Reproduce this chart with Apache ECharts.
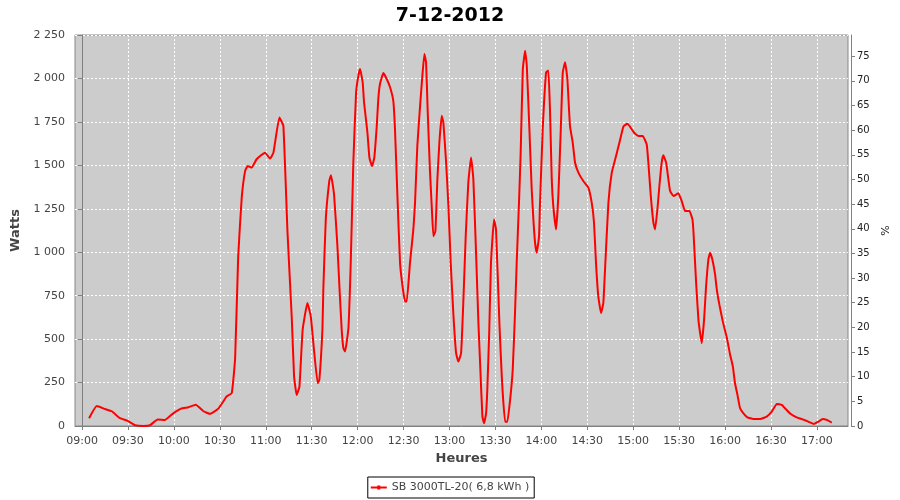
<!DOCTYPE html>
<html><head><meta charset="utf-8">
<script src="https://cdn.jsdelivr.net/npm/echarts@6/dist/echarts.min.js"></script>
<style>html,body{margin:0;padding:0;background:#fff}#c{width:900px;height:500px}</style>
</head><body><div id="c"></div>
<script>
const chartTitle = '7-12-2012';
const seriesName = 'SB 3000TL-20( 6,8 kWh )';
// minutes after 09:00
const minutes = [4.6,9.6,15,19.4,24.8,29.8,34.6,40,44.5,49.4,54.2,59.6,64.7,69.5,74.3,79.3,83.6,89,94.5,97.8,
100,102,104.3,106.5,108.2,110.8,114,119.5,122.8,125,128.9,131.5,134.2,137,138.5,140.2,142,144.1,147.2,149.4,
151.5,153.9,155,157,157.6,159.2,161.5,162.6,164.6,166.8,168.1,169.6,170.7,171.8,174,175.5,177.2,179,180.5,181.6,
183.3,184.2,186.4,187.7,189.4,190.9,192.5,193.5,194.6,196.8,199,201.2,203.3,204.4,206,207.7,209.5,211,212.1,214.2,
216.4,217.5,219,220.8,222.3,223.6,224.7,225.8,227.3,228.4,229.5,230.8,232.1,233.4,234.9,236,237.8,239.3,240.8,242.5,
244.3,245.8,247.6,249.1,250.6,252.3,254.1,255.6,257.2,258.9,260,261.5,262.6,263.9,264.7,266,267.1,269.1,270.4,272.6,
274.3,276.3,277.8,279.6,281.3,282.8,283.9,285.4,286.5,287.9,289.4,290.5,292.2,293.7,294.8,295.9,297,298.5,299.1,300.9,
303.1,304.6,305.7,306.8,307.8,309.6,311.1,312.7,314,315.5,317,318.7,320.5,322,324.2,327.4,330.7,332.9,334.4,335.7,
337.2,339,340.5,341.6,343.8,346,348.8,351,353.6,356.2,357.9,360.5,363.4,366.2,368.8,369.9,371.5,373.2,374.3,375.8,
377.1,378.6,379.7,381.5,383,384.1,386.3,389.5,391.7,393.9,396.7,398.7,399.4,401.1,402.6,403.7,404.8,406.3,407.6,409.1,
410.2,411.7,413.5,414.6,416.3,418.5,421.2,423.3,425.1,426.5,428.1,429.8,432,434.6,438.5,442.9,447.2,450.5,453.8,457,
459.8,462.9,466.8,470.7,474.4,478.1,480.9,483.8,486.4,489.7];
const watts = [45,115,98,85,45,30,5,0,5,38,35,73,100,108,122,85,70,100,170,189,
391,977,1314,1467,1496,1487,1535,1573,1539,1573,1775,1727,1115,620,285,179,227,554,708,631,
438,246,265,554,785,1189,1410,1443,1333,1035,804,554,448,429,564,939,1516,1920,2016,2054,
1978,1862,1689,1545,1496,1545,1727,1881,1968,2031,1997,1949,1871,1708,1323,939,794,717,717,939,
1131,1285,1612,1842,2016,2141,2093,1804,1458,1266,1092,1121,1419,1631,1785,1747,1516,1266,939,650,
420,371,420,727,1092,1400,1545,1419,1035,593,362,54,16,73,208,554,939,1189,1131,593,
260,25,25,150,323,650,939,1285,1573,2054,2160,2073,1708,1362,1189,1054,997,1092,1275,1708,
2035,2045,1804,1419,1266,1131,1323,1708,2035,2093,1997,1727,1631,1516,1458,1410,1372,1285,1170,939,
746,650,708,900,1285,1458,1554,1631,1723,1740,1723,1689,1669,1669,1621,1516,1323,1170,1131,1246,
1381,1516,1558,1516,1419,1352,1323,1339,1294,1237,1237,1189,1112,823,612,535,477,612,804,958,
997,958,871,785,698,602,506,410,342,246,179,102,73,50,40,40,54,83,127,121,
96,69,50,38,25,12,25,40,35,19];
const xTickMinutes = [0,30,60,90,120,150,180,210,240,270,300,330,360,390,420,450,480];
const pctTicks = [0,5,10,15,20,25,30,35,40,45,50,55,60,65,70,75];

const data = minutes.map((m, i) => [m, watts[i]]);
const font = 'DejaVu Sans';
const fmtTime = v => {
  const t = Math.round(v) + 540;
  const h = Math.floor(t / 60), mm = t % 60;
  return String(h).padStart(2, '0') + ':' + String(mm).padStart(2, '0');
};
const fmtW = v => String(v).replace(/\B(?=(\d{3})+(?!\d))/g, ' ');

const chart = echarts.init(document.getElementById('c'), null, {renderer: 'canvas'});
chart.setOption({
  animation: false,
  backgroundColor: '#ffffff',
  title: {
    text: chartTitle, left: 'center', top: 2,
    textStyle: {fontFamily: font, fontSize: 19, fontWeight: 'bold', color: '#000'}
  },
  legend: {
    data: [{name: seriesName, icon: 'path://M0,4H16V6H0Z M6.5,3H9.5V7H6.5Z'}],
    left: 'center', top: 477,
    borderColor: '#000', borderWidth: 1, borderRadius: 0,
    padding: [5, 5, 5, 3], itemWidth: 16, itemHeight: 4,
    itemStyle: {borderWidth: 0},
    textStyle: {fontFamily: font, fontSize: 11, color: '#444', lineHeight: 10}
  },
  grid: {
    left: 75, right: 52, top: 35, bottom: 74,
    show: true, backgroundColor: '#cccccc', borderColor: '#888888', borderWidth: 1
  },
  xAxis: {
    type: 'value', min: -4.6, max: 500.3, offset: 4,
    name: 'Heures', nameLocation: 'middle', nameGap: 21,
    nameTextStyle: {fontFamily: font, fontSize: 13, fontWeight: 'bold', color: '#444'},
    axisLine: {show: true, lineStyle: {color: '#808080'}},
    axisTick: {show: true, length: 4, lineStyle: {color: '#808080'}, customValues: xTickMinutes},
    axisLabel: {customValues: xTickMinutes, formatter: fmtTime, margin: 6,
      fontFamily: font, fontSize: 11, color: '#444', showMinLabel: true, showMaxLabel: true},
    splitLine: {show: true, lineStyle: {color: '#ffffff', type: [2, 2], width: 1}}
  },
  yAxis: [{
    type: 'value', min: 0, max: 2250, interval: 250, offset: 4, position: 'left',
    name: 'Watts', nameLocation: 'middle', nameGap: 44,
    nameTextStyle: {fontFamily: font, fontSize: 13, fontWeight: 'bold', color: '#444'},
    axisLine: {show: true, lineStyle: {color: '#808080'}},
    axisTick: {show: true, length: 4, lineStyle: {color: '#808080'}},
    axisLabel: {formatter: fmtW, margin: 6, fontFamily: font, fontSize: 11, color: '#444'},
    splitLine: {show: true, lineStyle: {color: '#ffffff', type: [2, 2], width: 1}}
  }, {
    type: 'value', min: 0, max: 79.3, offset: 3, position: 'right',
    name: '%', nameLocation: 'middle', nameGap: 25,
    nameTextStyle: {fontFamily: font, fontSize: 11, color: '#222'},
    axisLine: {show: true, lineStyle: {color: '#808080'}},
    axisTick: {show: true, length: 4, lineStyle: {color: '#808080'}, customValues: pctTicks},
    axisLabel: {customValues: pctTicks, margin: 6, fontFamily: font, fontSize: 10, color: '#222'},
    splitLine: {show: false}
  }],
  series: [{
    name: seriesName, type: 'line', data: data, yAxisIndex: 0,
    symbol: 'rect', symbolSize: 2, showSymbol: false,
    lineStyle: {color: '#ff0000', width: 2},
    itemStyle: {color: '#ff0000'},
    smooth: 0.12
  }]
});
</script></body></html>
